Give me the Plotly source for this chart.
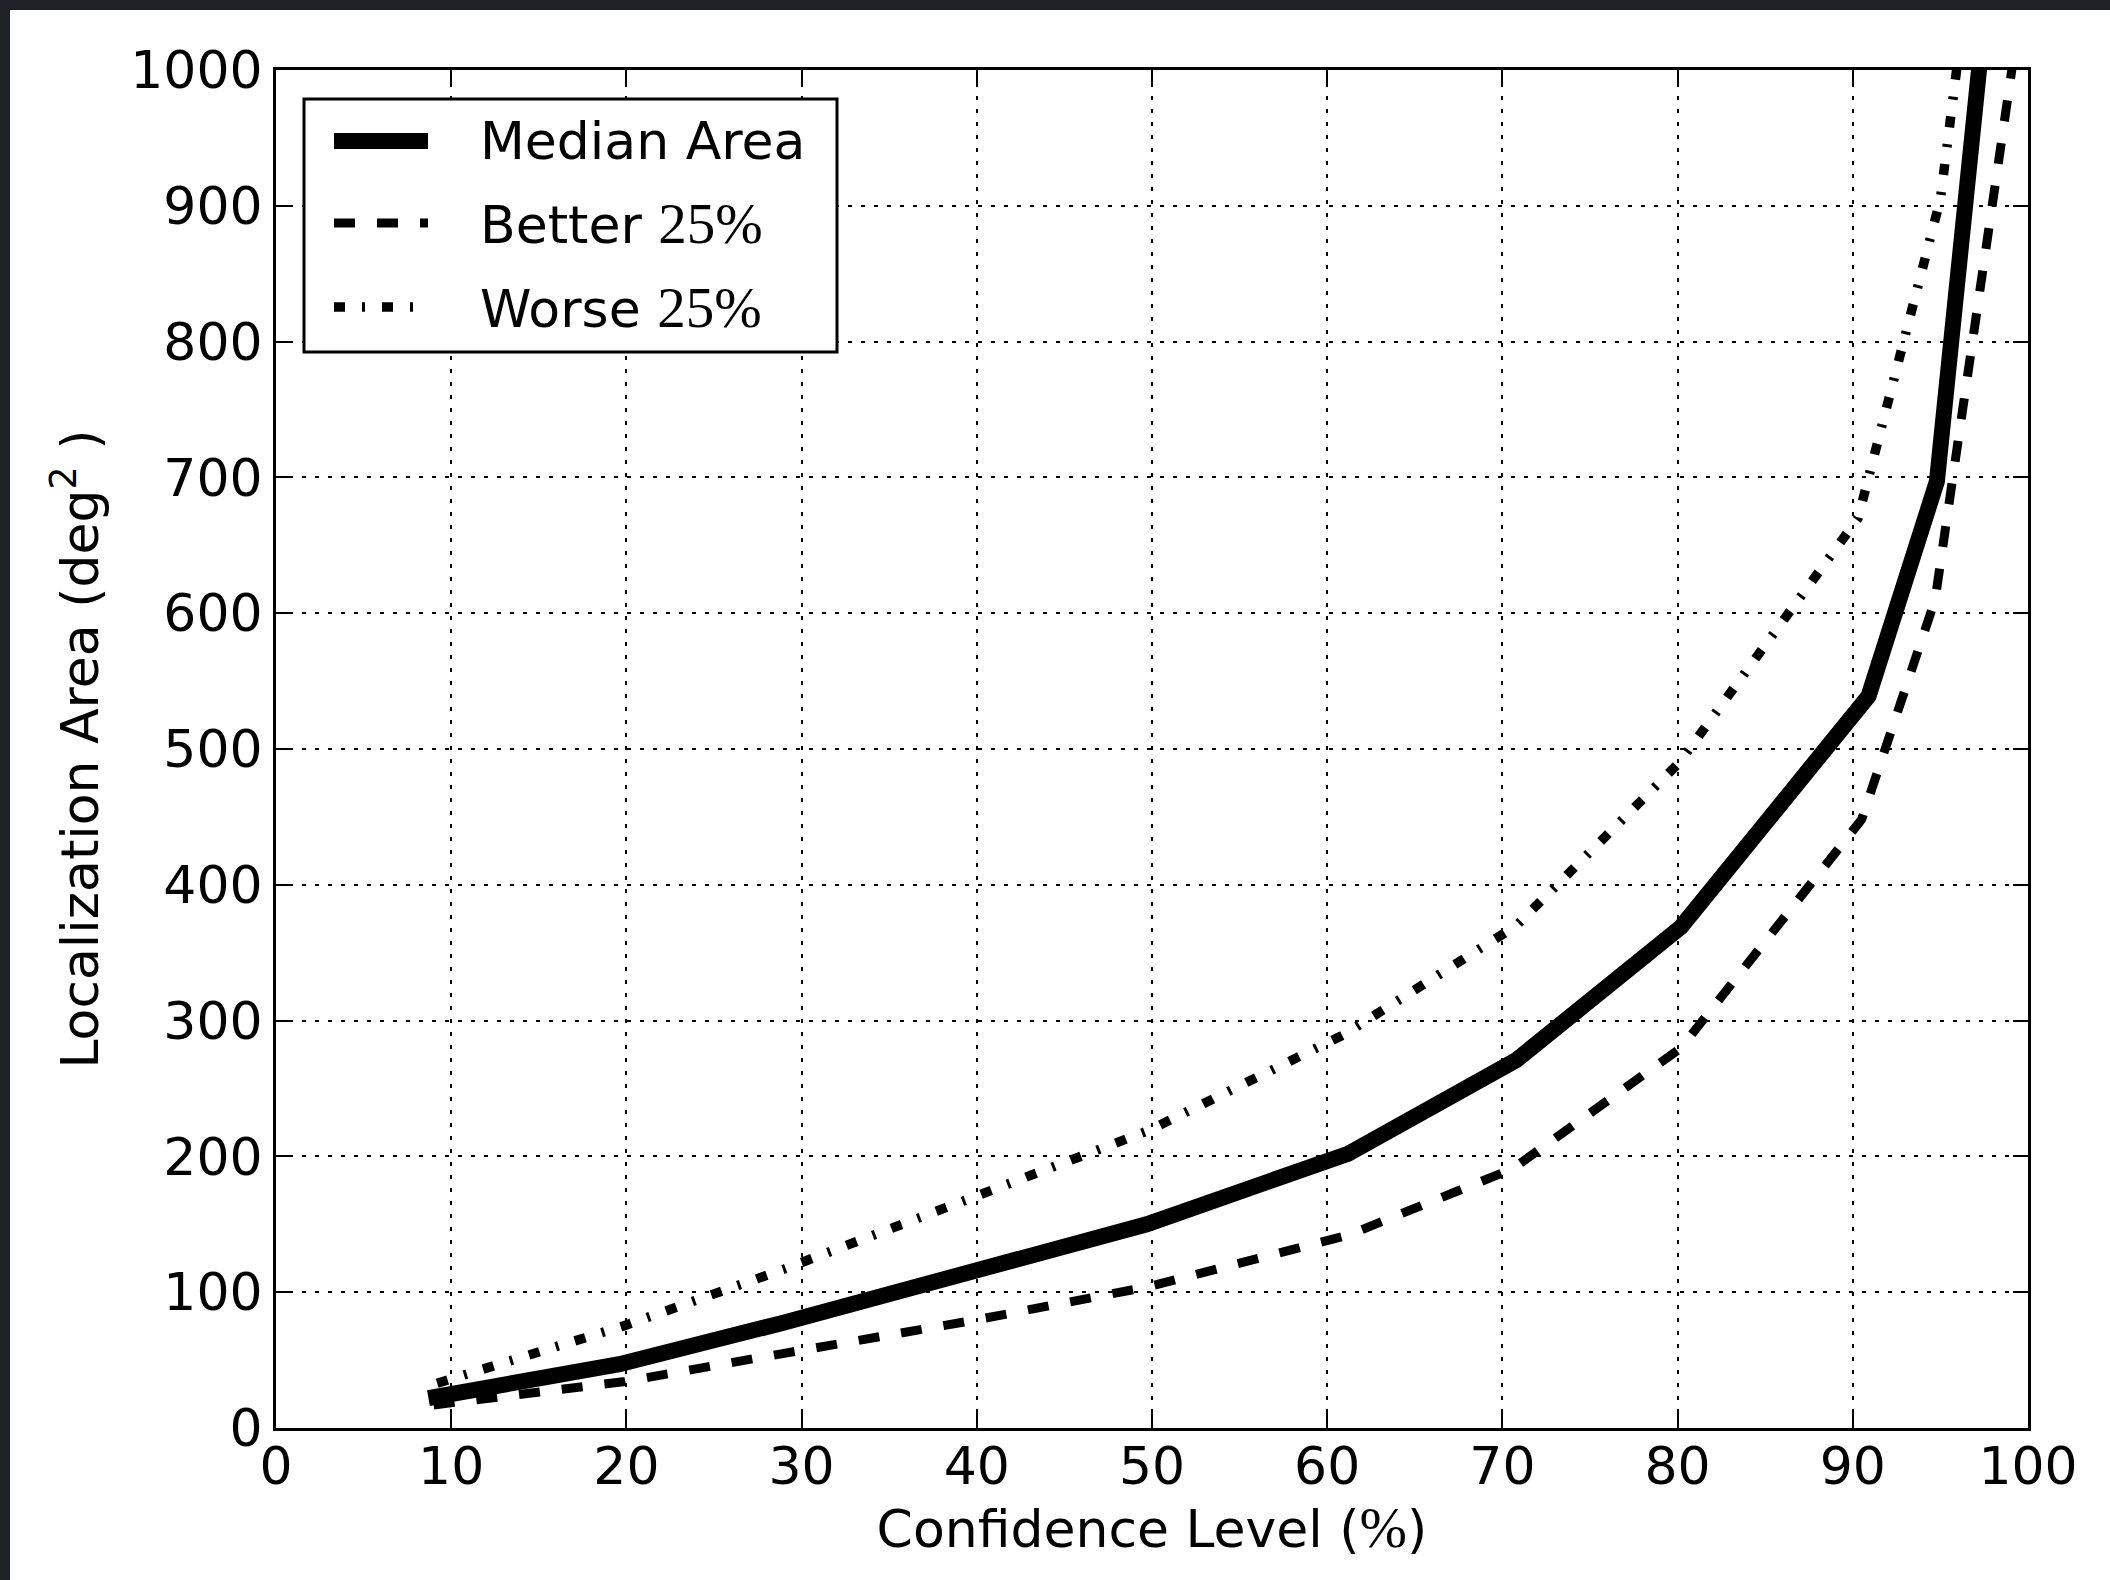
import plotly.graph_objects as go

# ---- data ----
median_x = [8.7, 19.6, 28.8, 39.6, 49.7, 61.2, 70.8, 80.2, 90.9, 94.8, 97.6]
median_y = [22, 47, 77, 114, 150, 202, 271, 369, 539, 697, 1050]

better_x = [9.0, 19.8, 29.0, 39.7, 49.8, 61.2, 70.6, 80.2, 90.5, 94.7, 99.3]
better_y = [17, 34, 55, 79, 104, 142, 191, 280, 448, 610, 1020]

worse_x = [9.2, 19.8, 29.0, 39.7, 49.8, 61.0, 70.8, 80.1, 90.3, 95.0, 96.9]
worse_y = [33, 75, 117, 170, 219, 290, 370, 490, 670, 905, 1100]

x_ticks = [0, 10, 20, 30, 40, 50, 60, 70, 80, 90, 100]
y_ticks = [0, 100, 200, 300, 400, 500, 600, 700, 800, 900, 1000]

W, H = 2110, 1580
L, R, T, B = 276, 2028, 70, 1428

FONT = "DejaVu Sans"
SERIF = "Liberation Serif"
FS = 52
SERIF_SPAN = "<span style='font-family:%s;font-size:57px'>%s</span>"

names = ["Median Area",
         "Better " + SERIF_SPAN % (SERIF, "25%"),
         "Worse " + SERIF_SPAN % (SERIF, "25%")]
styles = [dict(color="black", width=16),
          dict(color="black", width=9, dash="21px,22px"),
          dict(color="black", width=9.5, dash="11px,17px,3px,17px")]

fig = go.Figure()
for xs, ys, nm, st in zip([median_x, better_x, worse_x],
                          [median_y, better_y, worse_y], names, styles):
    fig.add_trace(go.Scatter(x=xs, y=ys, mode="lines", name=nm, line=st,
                             showlegend=False))

axis_common = dict(
    showline=True, linecolor="black", linewidth=3, mirror="ticks",
    ticks="inside", ticklen=15, tickwidth=2, tickcolor="black",
    showgrid=True, gridcolor="black", gridwidth=2, griddash="4px,9px",
    zeroline=False,
    tickfont=dict(family=FONT, size=FS, color="black"),
)

fig.update_xaxes(range=[0, 100], tickvals=x_ticks, ticktext=[str(v) for v in x_ticks],
                 title=dict(text="Confidence Level (" + SERIF_SPAN % (SERIF, "%") + ")",
                            font=dict(family=FONT, size=FS, color="black"), standoff=0),
                 ticklabelstandoff=-9,
                 **axis_common)
fig.update_yaxes(range=[0, 1000], tickvals=y_ticks, ticktext=[str(v) for v in y_ticks],
                 title=dict(text="Localization Area (deg<sup>2</sup> )",
                            font=dict(family=FONT, size=FS, color="black"), standoff=16),
                 ticklabelstandoff=0,
                 **axis_common)


def px_x(p):
    return (p - L) / (R - L)


def px_y(p):
    return (B - p) / (B - T)


shapes = [
    # dark textured frame edges (top and left)
    dict(type="rect", xref="paper", yref="paper",
         x0=px_x(0), x1=px_x(10), y0=-1, y1=2,
         fillcolor="#1e2128", line=dict(width=0), layer="above"),
    dict(type="rect", xref="paper", yref="paper",
         x0=-1, x1=2, y0=px_y(10), y1=px_y(-5),
         fillcolor="#1e2128", line=dict(width=0), layer="above"),
    # legend frame
    dict(type="rect", xref="paper", yref="paper",
         x0=px_x(304), x1=px_x(837), y0=px_y(352), y1=px_y(99),
         fillcolor="white", line=dict(color="black", width=3), layer="above"),
]
annotations = []
rows = [141, 223, 307]
for yy, nm, st in zip(rows, names, styles):
    shapes.append(dict(type="line", xref="paper", yref="paper",
                       x0=px_x(334), x1=px_x(428), y0=px_y(yy), y1=px_y(yy),
                       line=st, layer="above"))
    annotations.append(dict(xref="paper", yref="paper", x=px_x(478), y=px_y(yy),
                            xanchor="left", yanchor="middle", showarrow=False,
                            text=nm, font=dict(family=FONT, size=FS, color="black")))

fig.update_layout(
    width=W, height=H,
    margin=dict(l=L, r=W - R, t=T, b=H - B, autoexpand=False),
    paper_bgcolor="white", plot_bgcolor="white",
    font=dict(family=FONT, size=FS, color="black"),
    showlegend=False,
    shapes=shapes,
    annotations=annotations,
)

fig.write_html("out.html")
